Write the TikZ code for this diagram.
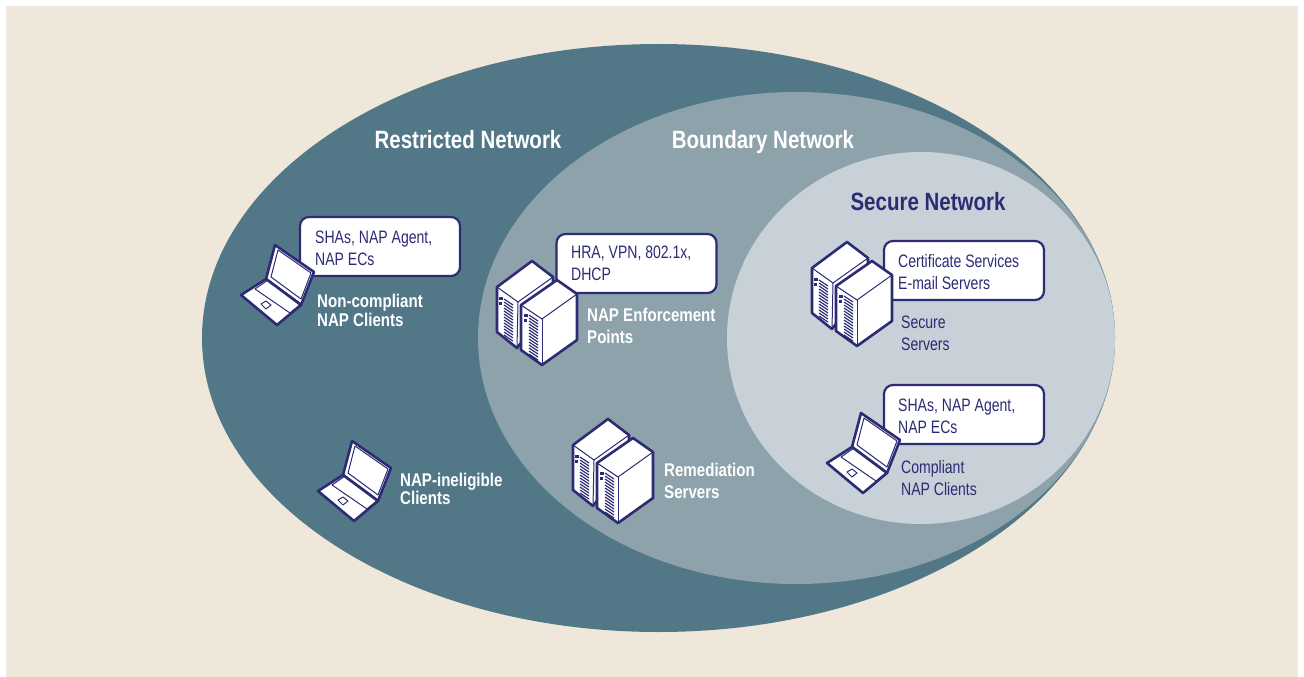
\documentclass[tikz,border=0pt]{standalone}
\usepackage{fontspec}
\setmainfont[FakeStretch=0.82]{Liberation Sans}
\newfontfamily\narrowfont[FakeStretch=0.78]{Liberation Sans}
\definecolor{paper}{HTML}{EFE7DA}
\definecolor{restricted}{HTML}{527888}
\definecolor{boundary}{HTML}{8EA2AB}
\definecolor{secure}{HTML}{C8D0D8}
\definecolor{navy}{HTML}{2B2C73}
\tikzset{
  title/.style={font=\bfseries\fontsize{25}{28}\selectfont, anchor=base},
  callout/.style={draw=navy, fill=white, line width=2.2pt, rounded corners=9pt, minimum width=160pt, minimum height=59pt, inner sep=0pt},
  boxtext/.style={text=navy, font=\narrowfont\fontsize{18}{22}\selectfont, align=left, anchor=west, inner sep=0pt},
  lightlabel/.style={text=white, font=\bfseries\fontsize{18.4}{22}\selectfont, align=left, anchor=west, inner sep=0pt},
  darklabel/.style={text=navy, font=\narrowfont\fontsize{18}{22}\selectfont, align=left, anchor=west, inner sep=0pt},
  thickline/.style={draw=navy, line width=2.6pt, line join=round},
  thinline/.style={draw=navy, line width=1pt, line join=round},
  pics/serverpair/.style={code={
    % back unit
    \filldraw[thickline, fill=white] (0,26) -- (35,0) -- (56,16) -- (56,40) -- (20,87) -- (0,71) -- cycle;
    \draw[thinline] (0,26) -- (21,41) -- (56,16);
    \draw[thinline] (21,41) -- (20,87);
    \fill[navy] (2,36) rectangle (6,39);
    \fill[navy] (2,41) rectangle (5,44);
    \foreach \i in {0,...,12}
      \draw[navy, line width=1.2pt] (7,{38+3*\i}) -- (16,{44+3*\i});
    % front unit
    \filldraw[thickline, fill=white] (24,44) -- (60,19) -- (80,33) -- (80,79) -- (45,104) -- (24,89) -- cycle;
    \draw[thinline] (24,44) -- (45,58) -- (80,33);
    \draw[thinline] (45,58) -- (45,104);
    \fill[navy] (27,53) rectangle (31,56);
    \fill[navy] (27,58) rectangle (30,61);
    \foreach \i in {0,...,13}
      \draw[navy, line width=1.2pt] (32,{54+3*\i}) -- (41,{60+3*\i});
  }},
  pics/laptop/.style={code={
    % lid
    \filldraw[thickline, fill=white] (34,0) -- (73,27) -- (60,60) -- (25,34) -- cycle;
    \draw[thinline] (37,5) -- (70,28) -- (60,54) -- (30,32) -- cycle;
    % base
    \filldraw[thickline, fill=white] (25,34) -- (0,50) -- (36,80) -- (60,60) -- cycle;
    \draw[thinline] (14,44) -- (27,35) -- (60,59) -- (49,68) -- cycle;
    \draw[thinline] (20,59) -- (25,56) -- (30,60) -- (25,64) -- cycle;
  }}
}
\begin{document}
\begin{tikzpicture}[x=1pt, y=-1pt]
\useasboundingbox (0,0) rectangle (1304,677);

% background
\fill[paper] (6,6) rectangle (1298,677);

% network zones
\fill[restricted] (658.5,338) ellipse [x radius=456.5, y radius=294];
\fill[boundary] (796.5,338) ellipse [x radius=318.5, y radius=246];
\fill[secure] (921,338) ellipse [x radius=194, y radius=186];

\node[title, text=white] (restrictedtitle) at (468,148) {Restricted Network};
\node[title, text=white] (boundarytitle) at (763,148) {Boundary Network};
\node[title, text=navy] (securetitle) at (928,210) {Secure Network};

% callouts
\node[callout] (shabox) at (380,246.5) {};
\node[boxtext] (shatext) at (315,248) {SHAs, NAP Agent,\\NAP ECs};
\node[callout] (hrabox) at (636.5,263.5) {};
\node[boxtext] (hratext) at (571,263) {HRA, VPN, 802.1x,\\DHCP};
\node[callout] (certbox) at (964,270.5) {};
\node[boxtext] (certtext) at (898,272) {Certificate Services\\E-mail Servers};
\node[callout] (compbox) at (964,414.5) {};
\node[boxtext] (comptext) at (898,416) {SHAs, NAP Agent,\\NAP ECs};

% clients
\pic at (241,245) {laptop};
\pic at (318,441) {laptop};
\pic at (827,413) {laptop};

% servers
\pic at (497,261) {serverpair};
\pic at (812,242) {serverpair};
\pic at (573,419) {serverpair};

% labels
\node[lightlabel] (noncompliant) at (317,310.5) {Non-compliant\\[-3pt]NAP Clients};
\node[lightlabel] (ineligible) at (400,489) {NAP-ineligible\\[-4pt]Clients};
\node[lightlabel] (enforcement) at (587,326) {NAP Enforcement\\Points};
\node[lightlabel] (remediation) at (664,481) {Remediation\\Servers};
\node[darklabel] (secureservers) at (901,333) {Secure\\Servers};
\node[darklabel] (compliant) at (901,478) {Compliant\\NAP Clients};
\end{tikzpicture}
\end{document}
